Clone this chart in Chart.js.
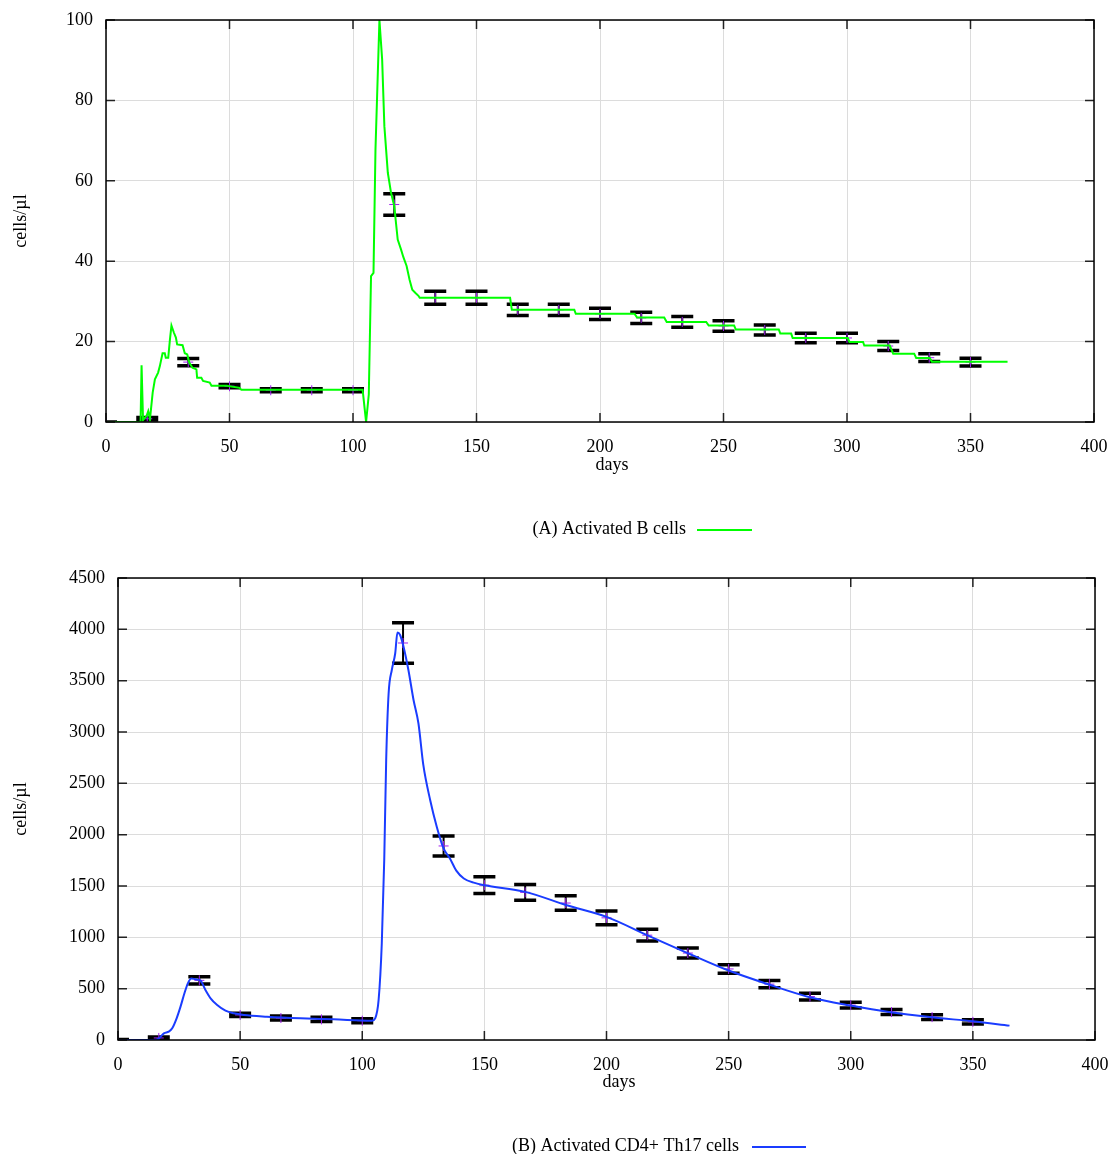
<!DOCTYPE html>
<html>
<head>
<meta charset="utf-8">
<script src="https://cdn.jsdelivr.net/npm/chart.js@4.4.1/dist/chart.umd.min.js"></script>
<style>
  body { margin: 0; background: #fff; }
  canvas { display: block; }
</style>
</head>
<body>
<canvas id="chartA" width="1113" height="550"></canvas>
<canvas id="chartB" width="1113" height="604"></canvas>
<script>
// days of the measurements (error bars), shared by both panels
const measDays = [0, 16.7, 33.3, 50, 66.7, 83.3, 100, 116.7, 133.3, 150, 166.7, 183.3, 200, 216.7, 233.3, 250, 266.7, 283.3, 300, 316.7, 333.3, 350];

// (A) activated B cells - measured mean and error
const bMean = [0, 0.8, 14.9, 8.9, 7.9, 7.9, 7.9, 54.1, 30.9, 30.9, 27.9, 27.9, 26.9, 25.9, 24.9, 23.9, 22.9, 20.9, 20.9, 18.9, 16, 14.9];
const bErr = [0, 0.3, 0.9, 0.4, 0.4, 0.4, 0.4, 2.7, 1.6, 1.6, 1.4, 1.4, 1.4, 1.4, 1.35, 1.3, 1.25, 1.2, 1.2, 1.1, 0.95, 0.95];

// (A) simulated curve
const bDays = [0, 14.0, 14.4, 15.0, 16.4, 17.1, 17.8, 18.9, 19.8, 21.1, 21.8, 22.9, 23.8, 24.2, 25.2, 25.9, 26.5, 27.5, 28.3, 28.8,
  31.0, 31.9, 32.9, 33.7, 35.0, 36.6, 36.9, 38.6, 39.3, 42.0, 42.7, 48.8, 54.1, 54.8, 103.9, 105.3, 106.4, 107.3, 108.3, 109.1,
  110.7, 111.8, 112.7, 114.1, 115.4, 116.7, 118.1, 119.4, 120.4, 121.7, 122.9, 124, 125.3, 126.5, 127, 163.6, 164.3, 189.6, 190.2, 214,
  215, 226, 227, 243, 244, 254.3, 255, 272.4, 273, 277.4, 278, 300.3, 301, 306.5, 307, 317.3, 318.7, 327.2, 328, 333.5,
  334.4, 365];
const bValues = [0, 0, 14.1, 0.5, 1.5, 2.7, 0.7, 7.3, 10.6, 12.3, 13.9, 17.1, 17.1, 16.0, 16.0, 20.6, 24.0, 22.2, 21.0, 19.3,
  19.1, 17.1, 16.8, 14.8, 13.5, 13.1, 11.0, 11.0, 10.2, 9.8, 9.0, 9.0, 8.5, 8.0, 8.0, 0, 6.9, 36.3, 37.1, 67.8,
  100, 90.2, 73.6, 62, 57, 53.7, 45.4, 43, 41, 38.8, 35.4, 32.9, 32.1, 31.4, 30.9, 30.9, 27.9, 27.9, 26.9, 26.9,
  26.0, 26.0, 24.9, 24.9, 24.0, 24.0, 23.0, 23.0, 22.0, 22.0, 20.9, 20.9, 19.9, 19.9, 19.0, 19.0, 17.0, 17.0, 15.95, 15.95,
  15.0, 15.0];

// (B) activated CD4+ Th17 cells - measured mean and error
const tMean = [0, 20, 581, 244, 214, 201, 188, 3867, 1890, 1508, 1438, 1334, 1190, 1021, 847, 692, 544, 423, 340, 272, 223, 177];
const tErr = [5, 10, 36, 16, 20, 20, 20, 198, 97, 81, 77, 70, 67, 57, 49, 41, 36, 33, 28, 24, 24, 21];

// (B) simulated curve
const tDays = [0, 15.4, 16.8, 18.8, 20.8, 22.2, 24, 25.6, 27.2, 28.6, 30, 31.7, 33.8, 35.8, 37.9, 40.6, 44, 47.4, 51.5, 61,
  74.7, 88.3, 104, 105.3, 106.7, 108, 109, 109.8, 110.8, 112.1, 113.5, 114.4, 115.5, 116.9, 118.9, 121, 123, 125, 127.8, 130.5,
  133.3, 135.9, 138.5, 141.6, 146, 150, 166.7, 183.7, 200, 216.8, 233.2, 250, 266.5, 283.2, 300, 316.3, 333.3, 350, 365];
const tValues = [0, 0, 16, 65, 81, 114, 211, 325, 455, 552, 600, 591, 578, 487, 406, 341, 286, 260, 244, 227,
  211, 201, 188, 211, 390, 942, 1753, 2727, 3377, 3604, 3767, 3968, 3945, 3831, 3604, 3312, 3085, 2679, 2338, 2078,
  1866, 1768, 1650, 1573, 1530, 1508, 1443, 1313, 1199, 1019, 847, 677, 541, 417, 335, 270, 221, 182, 140];

const FONT = 'Liberation Serif';

const toXY = (xs, ys) => xs.map((x, i) => ({ x: x, y: ys[i] }));

// black I-shaped error bars, drawn under the curves
const errorBarPlugin = {
  id: 'errorBars',
  beforeDatasetsDraw(chart, args, opts) {
    const { ctx, chartArea: a, scales: { x, y } } = chart;
    ctx.save();
    ctx.beginPath();
    ctx.rect(a.left, a.top, a.right - a.left, a.bottom - a.top);
    ctx.clip();
    ctx.strokeStyle = '#000';
    opts.days.forEach((d, i) => {
      const px = x.getPixelForValue(d);
      const top = y.getPixelForValue(opts.mean[i] + opts.err[i]);
      const bot = y.getPixelForValue(opts.mean[i] - opts.err[i]);
      ctx.lineWidth = 2;
      ctx.beginPath();
      ctx.moveTo(px, top);
      ctx.lineTo(px, bot);
      ctx.stroke();
      ctx.lineWidth = 3.5;
      ctx.beginPath();
      ctx.moveTo(px - 11, top);
      ctx.lineTo(px + 11, top);
      ctx.moveTo(px - 11, bot);
      ctx.lineTo(px + 11, bot);
      ctx.stroke();
    });
    ctx.restore();
  }
};

// frame with inward ticks on all four sides (gnuplot look), x label and key under the plot
const framePlugin = {
  id: 'frame',
  afterDraw(chart, args, opts) {
    const { ctx, chartArea: a, scales: { x, y } } = chart;
    ctx.save();
    ctx.strokeStyle = '#222';
    ctx.lineWidth = 1.5;
    ctx.beginPath();
    x.ticks.forEach(t => {
      const px = x.getPixelForValue(t.value);
      ctx.moveTo(px, a.bottom);
      ctx.lineTo(px, a.bottom - 9);
      ctx.moveTo(px, a.top);
      ctx.lineTo(px, a.top + 9);
    });
    y.ticks.forEach(t => {
      const py = y.getPixelForValue(t.value);
      ctx.moveTo(a.left, py);
      ctx.lineTo(a.left + 9, py);
      ctx.moveTo(a.right, py);
      ctx.lineTo(a.right - 9, py);
    });
    ctx.stroke();
    ctx.strokeStyle = '#000';
    ctx.strokeRect(a.left, a.top, a.right - a.left, a.bottom - a.top);

    ctx.font = '18px "' + FONT + '"';
    ctx.fillStyle = '#000';
    ctx.textBaseline = 'middle';
    // x axis label (gnuplot puts it a little right of centre)
    ctx.textAlign = 'center';
    ctx.fillText('days', opts.daysX, opts.daysY);

    // key
    ctx.textAlign = 'right';
    ctx.fillText(opts.label, opts.textRight, opts.keyY);
    ctx.strokeStyle = opts.color;
    ctx.lineWidth = 2;
    ctx.beginPath();
    ctx.moveTo(opts.lineFrom, opts.keyY + 1);
    ctx.lineTo(opts.lineTo, opts.keyY + 1);
    ctx.stroke();
    ctx.restore();
  }
};

function makeChart(id, cfg) {
  return new Chart(document.getElementById(id), {
    type: 'line',
    data: {
      datasets: [
        {
          data: toXY(cfg.days, cfg.values),
          borderColor: cfg.color,
          borderWidth: 2,
          pointRadius: 0,
          tension: cfg.tension,
          cubicInterpolationMode: cfg.tension ? 'monotone' : 'default'
        },
        {
          data: toXY(measDays, cfg.mean),
          showLine: false,
          pointStyle: 'cross',
          pointRadius: 5,
          pointBorderColor: '#a020f0',
          pointBorderWidth: 1
        }
      ]
    },
    options: {
      responsive: false,
      animation: false,
      layout: { padding: cfg.padding },
      plugins: {
        legend: { display: false },
        tooltip: { enabled: false },
        errorBars: { days: measDays, mean: cfg.mean, err: cfg.err },
        frame: cfg.key
      },
      scales: {
        x: {
          type: 'linear',
          min: 0,
          max: 400,
          afterFit: s => { s.height = 60; s.paddingLeft = 0; s.paddingRight = 0; },
          ticks: { stepSize: 50, padding: 14, color: '#000', font: { family: FONT, size: 18 } },
          grid: { color: '#dcdcdc', drawTicks: false },
          border: { display: false }
        },
        y: {
          min: 0,
          max: cfg.yMax,
          afterFit: s => { s.width = cfg.yWidth; s.paddingTop = 0; s.paddingBottom = 0; },
          ticks: {
            stepSize: cfg.yStep, padding: 13, color: '#000', font: { family: FONT, size: 18 },
            callback: v => String(v)
          },
          grid: { color: '#dcdcdc', drawTicks: false },
          border: { display: false },
          title: { display: true, text: 'cells/µl', color: '#000', font: { family: FONT, size: 18 }, padding: { top: 10, bottom: 0 } }
        }
      }
    },
    plugins: [errorBarPlugin, framePlugin]
  });
}

makeChart('chartA', {
  days: bDays, values: bValues, mean: bMean, err: bErr,
  color: '#00ff00', tension: 0,
  yMax: 100, yStep: 20, yWidth: 106,
  padding: { top: 20, right: 19, bottom: 68, left: 0 },
  key: { label: '(A) Activated B cells', textRight: 686, lineFrom: 697, lineTo: 752, keyY: 529, color: '#00ff00', daysX: 612, daysY: 465 }
});

makeChart('chartB', {
  days: tDays, values: tValues, mean: tMean, err: tErr,
  color: '#1a3cff', tension: 0.4,
  yMax: 4500, yStep: 500, yWidth: 118,
  padding: { top: 28, right: 18, bottom: 54, left: 0 },
  key: { label: '(B) Activated CD4+ Th17 cells', textRight: 739, lineFrom: 752, lineTo: 806, keyY: 596, color: '#1a3cff', daysX: 619, daysY: 532 }
});
</script>
</body>
</html>
